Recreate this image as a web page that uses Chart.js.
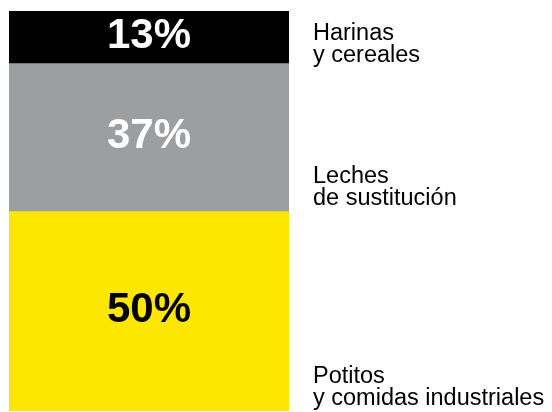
<!DOCTYPE html>
<html>
<head>
<meta charset="utf-8">
<script src="https://cdn.jsdelivr.net/npm/chart.js@4/dist/chart.umd.min.js"></script>
<style>
    html, body { margin: 0; padding: 0; background: #fff; }
    #wrap { width: 552px; height: 412px; position: relative; }
</style>
</head>
<body>
<div id="wrap"><canvas id="chart"></canvas></div>
<script>
// Data
const categories = ['Harinas y cereales', 'Leches de sustitución', 'Potitos y comidas industriales'];
const shares = [13, 37, 50];
const sideLabels = [
    ['Harinas', 'y cereales'],
    ['Leches', 'de sustitución'],
    ['Potitos', 'y comidas industriales']
];
const barColors = ['#000000', '#9d9ea0', '#fde600'];
const valueColors = ['#ffffff', '#ffffff', '#000000'];

const FONT = '"Liberation Sans", Arial, Helvetica, sans-serif';

// Draws the % inside each segment and the category name to the right
const segmentLabels = {
    id: 'segmentLabels',
    afterDatasetsDraw(chart) {
        const ctx = chart.ctx;
        const area = chart.chartArea;
        ctx.save();
        chart.data.datasets.forEach((ds, i) => {
            const bar = chart.getDatasetMeta(i).data[0];
            if (!bar) return;
            const top = Math.min(bar.y, bar.base);
            const bottom = Math.max(bar.y, bar.base);

            ctx.fillStyle = valueColors[i];
            ctx.font = 'bold 42px ' + FONT;
            ctx.textAlign = 'center';
            ctx.textBaseline = 'middle';
            ctx.fillText(shares[i] + '%', bar.x, (top + bottom) / 2 - 1);

            const lines = sideLabels[i];
            ctx.fillStyle = '#000';
            ctx.font = '23.5px ' + FONT;
            ctx.textAlign = 'left';
            ctx.textBaseline = 'alphabetic';
            const lh = 22.5;
            const lastBase = bottom - (i === 0 ? 1 : 6);
            lines.forEach((t, k) => {
                ctx.fillText(t, area.right + 24, lastBase - (lines.length - 1 - k) * lh);
            });
        });
        ctx.restore();
    }
};

new Chart(document.getElementById('chart'), {
    type: 'bar',
    data: {
        labels: [''],
        datasets: categories.map((c, i) => ({
            label: c,
            data: [shares[i]],
            backgroundColor: barColors[i],
            borderWidth: 0,
            barPercentage: 1,
            categoryPercentage: 1
        }))
    },
    options: {
        responsive: true,
        maintainAspectRatio: false,
        animation: false,
        layout: { padding: { top: 11, bottom: 1, left: 9, right: 263 } },
        plugins: { legend: { display: false }, tooltip: { enabled: false } },
        scales: {
            x: { stacked: true, display: false },
            y: { stacked: true, display: false, reverse: true, min: 0, max: 100 }
        }
    },
    plugins: [segmentLabels]
});
</script>
</body>
</html>
